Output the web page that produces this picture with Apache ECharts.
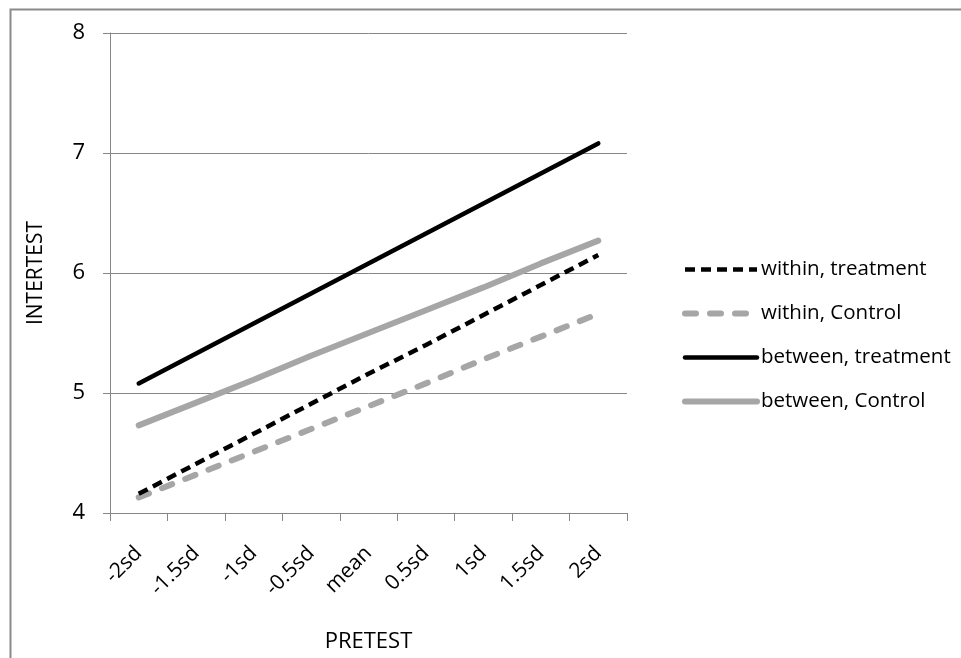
<!DOCTYPE html>
<html>
<head>
<meta charset="utf-8">
<script src="https://cdn.jsdelivr.net/npm/echarts@6/dist/echarts.min.js"></script>
<style>
html,body{margin:0;padding:0;background:#fff;}
#main{width:961px;height:658px;}
</style>
</head>
<body>
<div id="main"></div>
<script>
var categories = ['-2sd','-1.5sd','-1sd','-0.5sd','mean','0.5sd','1sd','1.5sd','2sd'];
var withinTreatment = [4.16, 4.41, 4.66, 4.91, 5.16, 5.40, 5.65, 5.90, 6.15];
var withinControl = [4.13, 4.32, 4.51, 4.70, 4.89, 5.08, 5.28, 5.47, 5.66];
var betweenTreatment = [5.08, 5.33, 5.58, 5.83, 6.08, 6.33, 6.58, 6.83, 7.08];
var betweenControl = [4.73, 4.92, 5.11, 5.31, 5.50, 5.69, 5.88, 6.08, 6.27];
var seriesNames = ['within, treatment','within, Control','between, treatment','between, Control'];

var FONT = 'Open Sans';
var chart = echarts.init(document.getElementById('main'), null, {renderer:'canvas'});
chart.setOption({
  animation: false,
  backgroundColor: '#fff',
  textStyle: {fontFamily: FONT},
  graphic: [{
    type: 'rect', left: 8, top: 7, z: 100,
    shape: {x: 0, y: 0, width: 1000, height: 700},
    style: {fill: 'none', stroke: '#8a8a8a', lineWidth: 2}
  }],
  grid: {left: 110, right: 334, top: 33, bottom: 144},
  legend: {
    orient: 'vertical', left: 677, top: 254,
    itemWidth: 72, itemHeight: 14, itemGap: 23,
    itemStyle: {opacity: 0},
    lineStyle: {width: 'inherit'},
    textStyle: {fontFamily: FONT, fontSize: 20.5, color: '#000', padding: [0, 0, 0, -1]},
    data: seriesNames
  },
  xAxis: {
    type: 'category', data: categories, boundaryGap: true,
    name: 'PRETEST', nameLocation: 'middle', nameGap: 118,
    nameTextStyle: {fontFamily: FONT, fontSize: 22, color: '#000'},
    axisLine: {lineStyle: {color: '#868686', width: 1}},
    axisTick: {show: true, length: 8, lineStyle: {color: '#868686'}},
    axisLabel: {rotate: 45, margin: 37, fontFamily: FONT, fontSize: 21, color: '#000', interval: 0}
  },
  yAxis: {
    type: 'value', min: 4, max: 8, interval: 1,
    name: 'INTERTEST', nameLocation: 'middle', nameRotate: 90, nameGap: 63,
    nameTextStyle: {fontFamily: FONT, fontSize: 21, color: '#000'},
    axisLine: {show: true, lineStyle: {color: '#868686', width: 1}},
    axisTick: {show: true, length: 7, lineStyle: {color: '#868686'}},
    axisLabel: {margin: 25, fontFamily: FONT, fontSize: 22, color: '#000'},
    splitLine: {show: true, lineStyle: {color: '#868686', width: 1}}
  },
  series: [
    {name: seriesNames[0], type: 'line', data: withinTreatment, symbol: 'none', z: 4,
     lineStyle: {color: '#000', width: 4.5, type: [10, 6], cap: 'butt'}, itemStyle: {color: '#000', opacity: 0}},
    {name: seriesNames[1], type: 'line', data: withinControl, symbol: 'none', z: 3,
     lineStyle: {color: '#a6a6a6', width: 6, type: [11, 14], cap: 'round'}, itemStyle: {color: '#a6a6a6', opacity: 0}},
    {name: seriesNames[2], type: 'line', data: betweenTreatment, symbol: 'none', z: 4,
     lineStyle: {color: '#000', width: 4.5, cap: 'round'}, itemStyle: {color: '#000', opacity: 0}},
    {name: seriesNames[3], type: 'line', data: betweenControl, symbol: 'none', z: 3,
     lineStyle: {color: '#a6a6a6', width: 6, cap: 'round'}, itemStyle: {color: '#a6a6a6', opacity: 0}}
  ]
});
</script>
</body>
</html>
